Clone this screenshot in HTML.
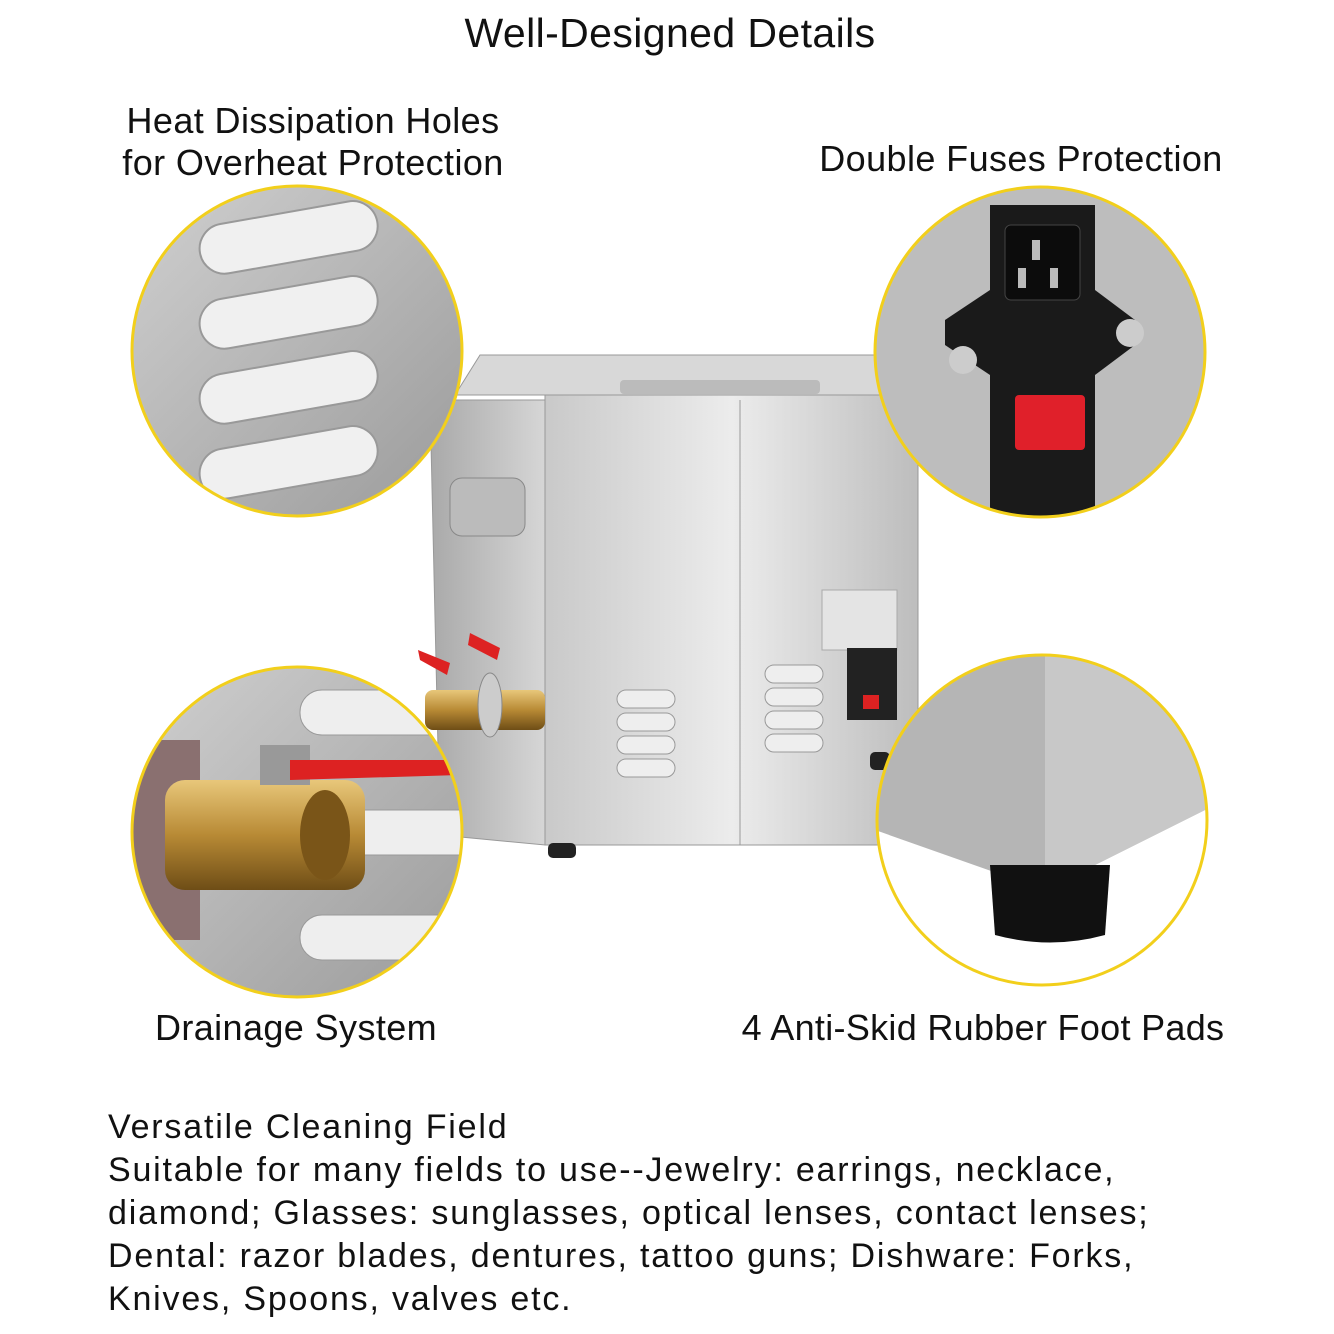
<!DOCTYPE html>
<html><head><meta charset="utf-8"><style>
html,body{margin:0;padding:0;background:#fff}
#c{position:relative;width:1334px;height:1334px;overflow:hidden;font-family:"Liberation Sans",Arial,sans-serif;color:#111}
.t{position:absolute;white-space:nowrap;font-size:36px;line-height:42px;letter-spacing:0.4px}
.ctr{transform:translateX(-50%);text-align:center}
</style></head><body><div id="c">
<svg width="1334" height="1334" style="position:absolute;left:0;top:0">
<defs>
<linearGradient id="steel" x1="0" x2="1"><stop offset="0" stop-color="#c9c9c9"/><stop offset="0.5" stop-color="#ececec"/><stop offset="1" stop-color="#bdbdbd"/></linearGradient>
<linearGradient id="side" x1="0" x2="1"><stop offset="0" stop-color="#a9a9a9"/><stop offset="1" stop-color="#d6d6d6"/></linearGradient>
<linearGradient id="gray" x1="0" y1="0" x2="1" y2="1"><stop offset="0" stop-color="#d0d0d0"/><stop offset="1" stop-color="#9a9a9a"/></linearGradient>
<linearGradient id="brass" x1="0" y1="0" x2="0" y2="1"><stop offset="0" stop-color="#e8c77a"/><stop offset="0.5" stop-color="#b88a35"/><stop offset="1" stop-color="#6e4d16"/></linearGradient>
<clipPath id="c1"><circle cx="297" cy="351" r="164"/></clipPath>
<clipPath id="c2"><circle cx="1040" cy="352" r="164"/></clipPath>
<clipPath id="c3"><circle cx="297" cy="832" r="164"/></clipPath>
<clipPath id="c4"><circle cx="1042" cy="820" r="164"/></clipPath>
</defs>
<polygon points="455,395 480,355 905,355 918,395" fill="#d8d8d8" stroke="#999"/>
<rect x="620" y="380" width="200" height="14" rx="4" fill="#bbb"/>
<path d="M430 400 L545 400 L545 845 L440 835 Z" fill="url(#side)" stroke="#999"/>
<rect x="545" y="395" width="373" height="450" fill="url(#steel)" stroke="#999"/>
<line x1="740" y1="400" x2="740" y2="845" stroke="#999"/>
<rect x="450" y="478" width="75" height="58" rx="12" fill="#bbb" stroke="#888"/>
<g fill="#eee" stroke="#999">
<rect x="617" y="690" width="58" height="18" rx="9"/><rect x="617" y="713" width="58" height="18" rx="9"/><rect x="617" y="736" width="58" height="18" rx="9"/><rect x="617" y="759" width="58" height="18" rx="9"/>
<rect x="765" y="665" width="58" height="18" rx="9"/><rect x="765" y="688" width="58" height="18" rx="9"/><rect x="765" y="711" width="58" height="18" rx="9"/><rect x="765" y="734" width="58" height="18" rx="9"/>
</g>
<rect x="822" y="590" width="75" height="60" fill="#e4e4e4" stroke="#aaa"/>
<rect x="847" y="648" width="50" height="72" fill="#222"/>
<rect x="863" y="695" width="16" height="14" fill="#d22"/>
<rect x="548" y="843" width="28" height="15" rx="5" fill="#222"/>
<rect x="870" y="752" width="20" height="18" rx="5" fill="#222"/>
<rect x="425" y="690" width="120" height="40" rx="8" fill="url(#brass)"/>
<ellipse cx="490" cy="705" rx="12" ry="32" fill="#ccc" stroke="#888"/>
<path d="M418 650 L450 663 L447 675 L420 660Z M470 633 L500 648 L497 660 L468 645Z" fill="#d22"/>
<g clip-path="url(#c1)"><rect x="130" y="180" width="340" height="340" fill="url(#gray)"/>
<g fill="#f0f0f0" stroke="#999" stroke-width="2">
<rect x="200" y="228" width="180" height="50" rx="25" transform="rotate(-10 200 253)"/>
<rect x="200" y="303" width="180" height="50" rx="25" transform="rotate(-10 200 328)"/>
<rect x="200" y="378" width="180" height="50" rx="25" transform="rotate(-10 200 403)"/>
<rect x="200" y="453" width="180" height="50" rx="25" transform="rotate(-10 200 478)"/>
</g></g>
<g clip-path="url(#c2)"><rect x="870" y="185" width="340" height="340" fill="#bdbdbd"/>
<polygon points="990,205 1095,205 1095,290 1135,320 1135,345 1095,375 1095,520 990,520 990,375 945,345 945,320 990,290" fill="#1a1a1a"/>
<rect x="1005" y="225" width="75" height="75" rx="6" fill="#0c0c0c" stroke="#444"/>
<rect x="1032" y="240" width="8" height="20" fill="#bbb"/><rect x="1018" y="268" width="8" height="20" fill="#bbb"/><rect x="1050" y="268" width="8" height="20" fill="#bbb"/>
<circle cx="963" cy="360" r="14" fill="#ccc"/><circle cx="1130" cy="333" r="14" fill="#ccc"/>
<rect x="1015" y="395" width="70" height="55" rx="4" fill="#e0202a"/>
</g>
<g clip-path="url(#c3)"><rect x="130" y="665" width="340" height="340" fill="url(#gray)"/>
<g fill="#eee" stroke="#999"><rect x="300" y="690" width="200" height="45" rx="22"/><rect x="300" y="810" width="200" height="45" rx="22"/><rect x="300" y="915" width="200" height="45" rx="22"/></g>
<rect x="130" y="740" width="70" height="200" fill="#8a7070"/>
<rect x="165" y="780" width="200" height="110" rx="20" fill="url(#brass)"/>
<rect x="260" y="745" width="50" height="40" fill="#999"/>
<path d="M290 760 L460 760 L460 775 L290 780Z" fill="#d22"/>
<ellipse cx="325" cy="835" rx="25" ry="45" fill="#7a5518"/>
</g>
<g clip-path="url(#c4)"><rect x="875" y="655" width="340" height="340" fill="#fff"/>
<polygon points="875,655 1215,655 1215,805 1045,890 875,830" fill="#b5b5b5"/>
<polygon points="1045,655 1045,890 1215,805 1215,655" fill="#c8c8c8"/>
<path d="M990 865 L1110 865 L1105 935 Q1050 950 995 935Z" fill="#111"/>
</g>
<g fill="none" stroke="#f2cf1b" stroke-width="3">
<circle cx="297" cy="351" r="165"/><circle cx="1040" cy="352" r="165"/><circle cx="297" cy="832" r="165"/><circle cx="1042" cy="820" r="165"/>
</g>
</svg>
<div class="t ctr" style="left:670px;top:10px;font-size:41px;line-height:46px">Well-Designed Details</div>
<div class="t ctr" style="left:313px;top:100px">Heat Dissipation Holes<br>for Overheat Protection</div>
<div class="t ctr" style="left:1021px;top:138px">Double Fuses Protection</div>
<div class="t ctr" style="left:296px;top:1007px">Drainage System</div>
<div class="t ctr" style="left:983px;top:1007px;letter-spacing:0.3px">4 Anti-Skid Rubber Foot Pads</div>
<div class="t" style="left:108px;top:1106px;line-height:43px;font-size:34px;letter-spacing:1.8px">Versatile Cleaning Field<br>Suitable for many fields to use--Jewelry: earrings, necklace,<br>diamond; Glasses: sunglasses, optical lenses, contact lenses;<br>Dental: razor blades, dentures, tattoo guns; Dishware: Forks,<br>Knives, Spoons, valves etc.</div>
</div></body></html>
